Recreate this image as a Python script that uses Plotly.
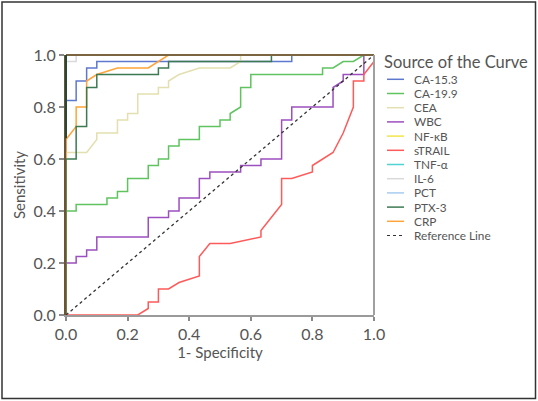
import plotly.graph_objects as go

# ---------------- data ----------------
series_names = ["CA-15.3", "CA-19.9", "CEA", "WBC", "NF-\u03baB", "sTRAIL",
                "TNF-\u03b1", "IL-6", "PCT", "PTX-3", "CRP"]
series_colors = ["#5f78cf", "#5fc45f", "#e3dfb0", "#9c4fbf", "#f2e64a", "#ff5a5a",
                 "#4fd3d3", "#d9d9d9", "#a6cdf0", "#3c7a52", "#ffa43a"]

ca153_x = [0, 0, 0.033, 0.033, 0.067, 0.067, 0.1, 0.1, 0.733, 0.733, 1]
ca153_y = [0, 0.825, 0.825, 0.9, 0.9, 0.95, 0.95, 0.975, 0.975, 1, 1]

ca199_x = [0, 0, 0.033, 0.033, 0.133, 0.133, 0.167, 0.167, 0.2, 0.2, 0.267, 0.267,
           0.3, 0.3, 0.333, 0.333, 0.367, 0.367, 0.433, 0.433, 0.5, 0.5, 0.533, 0.533,
           0.567, 0.567, 0.6, 0.6, 0.833, 0.833, 0.867, 0.9, 0.933, 0.967, 1]
ca199_y = [0, 0.4, 0.4, 0.425, 0.425, 0.45, 0.45, 0.475, 0.475, 0.525, 0.525, 0.575,
           0.575, 0.6, 0.6, 0.65, 0.65, 0.675, 0.675, 0.725, 0.725, 0.75, 0.75, 0.775,
           0.8, 0.875, 0.875, 0.925, 0.925, 0.95, 0.95, 0.975, 0.975, 1, 1]

cea_x = [0, 0, 0.067, 0.1, 0.1, 0.167, 0.167, 0.2, 0.2, 0.233, 0.233, 0.3, 0.3,
         0.333, 0.333, 0.367, 0.433, 0.533, 0.567, 0.567, 1]
cea_y = [0, 0.625, 0.625, 0.675, 0.7, 0.7, 0.75, 0.75, 0.775, 0.775, 0.85, 0.85, 0.875,
         0.875, 0.9, 0.925, 0.95, 0.95, 0.975, 1, 1]

wbc_x = [0, 0, 0.033, 0.033, 0.067, 0.067, 0.1, 0.1, 0.267, 0.267, 0.333, 0.333,
         0.367, 0.367, 0.433, 0.433, 0.467, 0.467, 0.567, 0.567, 0.633, 0.633, 0.7, 0.7,
         0.733, 0.733, 0.867, 0.867, 0.9, 0.9, 0.967, 0.967, 1]
wbc_y = [0, 0.2, 0.2, 0.225, 0.225, 0.25, 0.25, 0.3, 0.3, 0.375, 0.375, 0.4,
         0.4, 0.45, 0.45, 0.525, 0.525, 0.55, 0.55, 0.575, 0.575, 0.6, 0.6, 0.75,
         0.75, 0.8, 0.8, 0.875, 0.9, 0.925, 0.925, 1, 1]

perfect_x = [0, 0, 1]
perfect_y = [0, 1, 1]

strail_x = [0, 0.233, 0.267, 0.267, 0.3, 0.3, 0.333, 0.367, 0.433, 0.433, 0.467, 0.533,
            0.633, 0.633, 0.7, 0.7, 0.733, 0.8, 0.8, 0.867, 0.9, 0.933, 0.933, 0.967,
            0.967, 1.0, 1.0]
strail_y = [0, 0, 0.025, 0.05, 0.05, 0.1, 0.1, 0.125, 0.15, 0.225, 0.275, 0.275,
            0.3, 0.325, 0.425, 0.525, 0.525, 0.55, 0.575, 0.625, 0.7, 0.8, 0.9, 0.9,
            0.925, 0.975, 1.0]

il6_x = [0, 0, 0.033, 0.033, 1]
il6_y = [0, 0.975, 0.975, 1, 1]

ptx3_x = [0, 0, 0.033, 0.033, 0.067, 0.067, 0.1, 0.1, 0.3, 0.3, 0.333, 0.333,
          0.667, 0.667, 1]
ptx3_y = [0, 0.6, 0.6, 0.725, 0.725, 0.875, 0.875, 0.925, 0.925, 0.95, 0.95, 0.975,
          0.975, 1, 1]

crp_x = [0, 0, 0.033, 0.033, 0.067, 0.067, 0.1, 0.167, 0.267, 0.333, 1]
crp_y = [0, 0.675, 0.725, 0.8, 0.8, 0.9, 0.925, 0.95, 0.95, 1, 1]

ref_x = [0, 1]
ref_y = [0, 1]

series_x = [ca153_x, ca199_x, cea_x, wbc_x, perfect_x, strail_x,
            perfect_x, il6_x, perfect_x, ptx3_x, crp_x]
series_y = [ca153_y, ca199_y, cea_y, wbc_y, perfect_y, strail_y,
            perfect_y, il6_y, perfect_y, ptx3_y, crp_y]

x_ticks = [0, 0.2, 0.4, 0.6, 0.8, 1.0]
y_ticks = [0, 0.2, 0.4, 0.6, 0.8, 1.0]

# ---------------- layout geometry (pixels) ----------------
W, H = 538, 401
ML, MR, MT, MB = 66, 164, 55, 86
PW, PH = W - ML - MR, H - MT - MB

def px(x):
    return (x - ML) / PW

def py(y):
    return (MT + PH - y) / PH

FONT = "Lato, 'Open Sans', sans-serif"
TXT = "#555555"

fig = go.Figure()

# draw perfect curves first so the others stay on top
order = [4, 6, 8, 7, 0, 1, 2, 3, 5, 10, 9]
for i in order:
    fig.add_trace(go.Scatter(x=series_x[i], y=series_y[i], mode="lines",
                             name=series_names[i], showlegend=False,
                             line=dict(color=series_colors[i], width=1.5),
                             hoverinfo="skip"))
fig.add_trace(go.Scatter(x=ref_x, y=ref_y, mode="lines", name="Reference Line",
                         showlegend=False,
                         line=dict(color="#333333", width=1.3, dash="dot"),
                         hoverinfo="skip"))

fig.update_layout(
    width=W, height=H,
    margin=dict(l=ML, r=MR, t=MT, b=MB),
    paper_bgcolor="white", plot_bgcolor="white",
    font=dict(family=FONT, color=TXT),
    showlegend=False,
)
fig.update_xaxes(range=[0, 1], tickvals=x_ticks, tickformat=".1f",
                 showgrid=False, zeroline=False,
                 showline=True, linecolor="#9a9a9a", linewidth=2,
                 ticks="outside", ticklen=4, tickwidth=1.5, tickcolor="#8a8a8a",
                 tickfont=dict(size=16, color=TXT),
                 title=dict(text="1- Specificity", font=dict(size=15, color=TXT), standoff=0))
fig.update_yaxes(range=[0, 1], tickvals=y_ticks, tickformat=".1f",
                 showgrid=False, zeroline=False,
                 showline=True, linecolor="#6b5530", linewidth=2,
                 ticks="outside", ticklen=5, tickwidth=1.5, tickcolor="#8a8a8a",
                 tickfont=dict(size=16, color=TXT),
                 title=dict(text="Sensitivity", font=dict(size=15, color=TXT), standoff=4))

shapes = []
# frame: top (brown, curves overlap), right (gray), upper left (dark green)
shapes.append(dict(type="line", xref="paper", yref="paper", x0=0, x1=1, y0=1, y1=1,
                   line=dict(color="#7a6540", width=2), layer="above"))
shapes.append(dict(type="line", xref="paper", yref="paper", x0=1, x1=1, y0=0, y1=1,
                   line=dict(color="#a0a0a0", width=2), layer="above"))
shapes.append(dict(type="line", xref="paper", yref="y", x0=0, x1=0, y0=0.68, y1=1,
                   line=dict(color="#24483a", width=2), layer="above"))
# outer border of the picture
shapes.append(dict(type="rect", xref="paper", yref="paper",
                   x0=px(2), x1=px(535.5), y0=py(398.5), y1=py(2),
                   line=dict(color="#333333", width=1.5), layer="below"))

annotations = []
annotations.append(dict(text="Source of the Curve", xref="paper", yref="paper",
                        x=px(382), y=py(62), xanchor="left", yanchor="middle",
                        showarrow=False, font=dict(size=16.5, color=TXT, family=FONT)))

legend_names = series_names + ["Reference Line"]
legend_colors = series_colors + ["#333333"]
for k, (nm, col) in enumerate(zip(legend_names, legend_colors)):
    yc = 79.3 + k * 14.2
    shapes.append(dict(type="line", xref="paper", yref="paper",
                       x0=px(387), x1=px(404), y0=py(yc), y1=py(yc),
                       line=dict(color=col, width=1.5 if k < len(series_names) else 1.2,
                                 dash="solid" if k < len(series_names) else "dot")))
    annotations.append(dict(text=nm, xref="paper", yref="paper",
                            x=px(412), y=py(yc), xanchor="left", yanchor="middle",
                            showarrow=False, font=dict(size=11.8, color=TXT, family=FONT)))

fig.update_layout(shapes=shapes, annotations=annotations)

fig.write_html("out.html",
               config={"displayModeBar": False},
               post_script="document.body.style.margin='0';"
                           "document.body.style.overflow='hidden';")
